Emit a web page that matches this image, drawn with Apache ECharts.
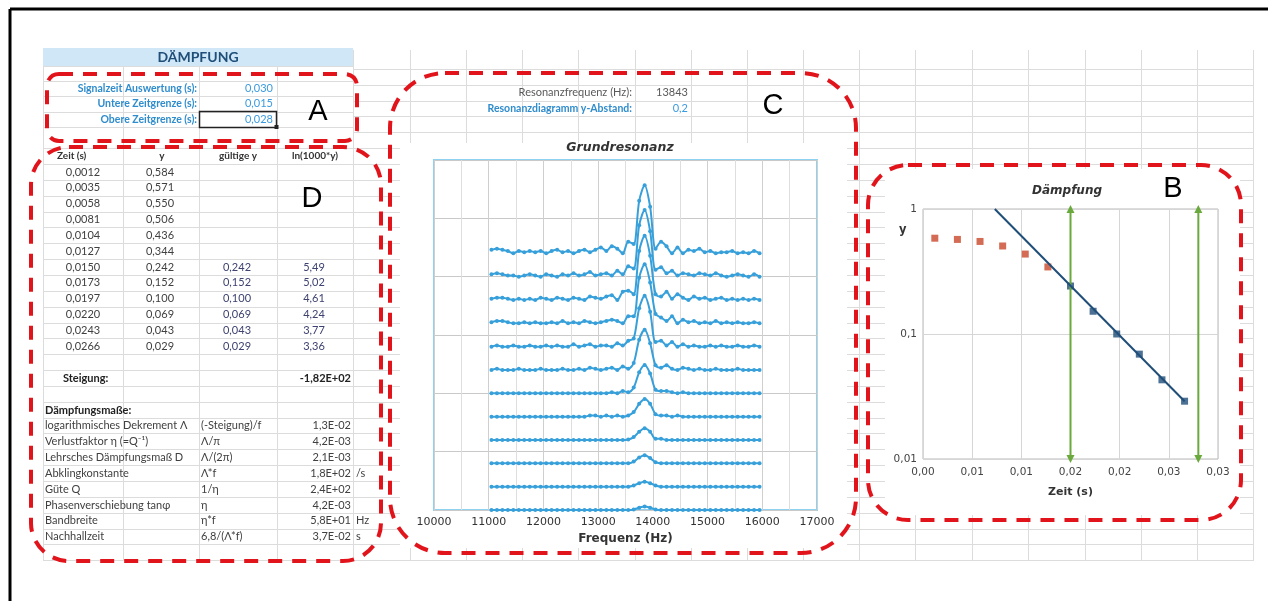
<!DOCTYPE html>
<html>
<head>
<meta charset="utf-8">
<title>Dämpfung</title>
<script src="https://cdn.jsdelivr.net/npm/echarts@6/dist/echarts.min.js"></script>
<style>
  html, body { margin: 0; padding: 0; background: #fff; }
  #chart { width: 1268px; height: 601px; }
</style>
</head>
<body>
<div id="chart"></div>
<script>
// ---- sheet values (block A) ----
const paramLabels = ['Signalzeit Auswertung (s):', 'Untere Zeitgrenze (s):', 'Obere Zeitgrenze (s):']
const paramValues = ['0,030', '0,015', '0,028']
const zeitGrenzen = [0.015, 0.028]

// ---- block C ----
const resLabels = ['Resonanzfrequenz (Hz):', 'Resonanzdiagramm y-Abstand:']
const resValues = ['13843', '0,2']
const yAbstand = 0.2

// ---- block D ----
const tableHeader = ['Zeit (s)', 'y', 'gültige y', 'ln(1000*y)']
const zeit = [0.0012, 0.0035, 0.0058, 0.0081, 0.0104, 0.0127, 0.0150, 0.0173, 0.0197, 0.0220, 0.0243, 0.0266]
const yWerte = [0.584, 0.571, 0.550, 0.506, 0.436, 0.344, 0.242, 0.152, 0.100, 0.069, 0.043, 0.029]
const gueltigeY = [null, null, null, null, null, null, 0.242, 0.152, 0.100, 0.069, 0.043, 0.029]
const lnWerte = [null, null, null, null, null, null, 5.49, 5.02, 4.61, 4.24, 3.77, 3.36]
const steigung = '-1,82E+02'
const massLabels = ['logarithmisches Dekrement Λ', 'Verlustfaktor η (=Q⁻¹)', 'Lehrsches Dämpfungsmaß D', 'Abklingkonstante',
  'Güte Q', 'Phasenverschiebung tanφ', 'Bandbreite', 'Nachhallzeit']
const massFormeln = ['(-Steigung)/f', 'Λ/π', 'Λ/(2π)', 'Λ*f', '1/η', 'η', 'η*f', '6,8/(Λ*f)']
const massWerte = ['1,3E-02', '4,2E-03', '2,1E-03', '1,8E+02', '2,4E+02', '4,2E-03', '5,8E+01', '3,7E-02']
const massEinheiten = ['', '', '', '/s', '', '', 'Hz', 's']

// ---- Grundresonanz: spectra, one per time step (amplitude above its own baseline) ----
const frequenz = [11050, 11150, 11250, 11350, 11450, 11550, 11650, 11750, 11850, 11950,
  12050, 12150, 12250, 12350, 12450, 12550, 12650, 12750, 12850, 12950,
  13050, 13150, 13250, 13350, 13450, 13550, 13650, 13750, 13850, 13950,
  14050, 14150, 14250, 14350, 14450, 14550, 14650, 14750, 14850, 14950,
  15050, 15150, 15250, 15350, 15450, 15550, 15650, 15750, 15850, 15950]
const spec0012 = [0.03, 0.04, 0.03, 0.02, 0.00, 0.02, 0.01, 0.02, 0.01, 0.02,
  0.00, 0.02, 0.03, 0.01, 0.02, 0.00, 0.02, 0.03, 0.01, 0.03,
  0.05, 0.02, 0.06, 0.04, 0.00, 0.10, 0.08, 0.45, 0.584, 0.40,
  0.04, 0.10, 0.06, 0.00, 0.05, 0.00, 0.03, 0.02, 0.04, 0.01,
  0.02, 0.00, 0.01, 0.01, 0.02, 0.00, 0.01, 0.00, 0.02, 0.00]
const spec0035 = [0.02, 0.03, 0.02, 0.01, 0.01, 0.00, 0.01, 0.02, 0.01, 0.00,
  0.02, 0.01, 0.00, 0.02, 0.01, 0.03, 0.01, 0.02, 0.04, 0.01,
  0.02, 0.03, 0.01, 0.05, 0.02, 0.09, 0.07, 0.44, 0.571, 0.39,
  0.06, 0.08, 0.03, 0.05, 0.01, 0.03, 0.02, 0.01, 0.03, 0.02,
  0.01, 0.03, 0.01, 0.00, 0.01, 0.02, 0.01, 0.00, 0.02, 0.00]
const spec0058 = [0.01, 0.02, 0.02, 0.01, 0.00, 0.01, 0.00, 0.01, 0.00, 0.02,
  0.01, 0.00, 0.02, 0.01, 0.00, 0.02, 0.01, 0.00, 0.03, 0.02,
  0.01, 0.03, 0.04, 0.00, 0.07, 0.08, 0.05, 0.42, 0.550, 0.38,
  0.05, 0.03, 0.07, 0.01, 0.05, 0.02, 0.00, 0.03, 0.01, 0.02,
  0.00, 0.01, 0.02, 0.00, 0.01, 0.00, 0.01, 0.00, 0.01, 0.00]
const spec0081 = [0.01, 0.02, 0.02, 0.01, 0.00, 0.00, 0.01, 0.00, 0.01, 0.00,
  0.00, 0.01, 0.00, 0.02, 0.00, 0.01, 0.00, 0.02, 0.01, 0.00,
  0.01, 0.02, 0.03, 0.02, 0.00, 0.06, 0.06, 0.39, 0.506, 0.35,
  0.08, 0.05, 0.02, 0.06, 0.00, 0.03, 0.01, 0.02, 0.00, 0.01,
  0.00, 0.02, 0.00, 0.01, 0.00, 0.01, 0.00, 0.00, 0.01, 0.00]
const spec0104 = [0.00, 0.01, 0.00, 0.00, 0.01, 0.00, 0.00, 0.01, 0.00, 0.00,
  0.01, 0.00, 0.01, 0.00, 0.00, 0.02, 0.00, 0.01, 0.02, 0.00,
  0.01, 0.01, 0.00, 0.03, 0.01, 0.05, 0.07, 0.33, 0.436, 0.30,
  0.04, 0.05, 0.01, 0.04, 0.00, 0.02, 0.00, 0.01, 0.00, 0.00,
  0.01, 0.00, 0.01, 0.00, 0.00, 0.01, 0.00, 0.00, 0.01, 0.00]
const spec0127 = [0.00, 0.01, 0.00, 0.00, 0.00, 0.01, 0.00, 0.00, 0.00, 0.01,
  0.00, 0.00, 0.00, 0.01, 0.00, 0.00, 0.01, 0.00, 0.02, 0.01,
  0.00, 0.01, 0.02, 0.00, 0.03, 0.01, 0.06, 0.26, 0.344, 0.23,
  0.04, 0.02, 0.04, 0.01, 0.00, 0.02, 0.01, 0.00, 0.01, 0.00,
  0.00, 0.01, 0.00, 0.00, 0.00, 0.01, 0.00, 0.00, 0.00, 0.00]
const spec0150 = [0.00, 0.00, 0.00, 0.00, 0.00, 0.00, 0.00, 0.00, 0.00, 0.00,
  0.00, 0.00, 0.00, 0.00, 0.00, 0.00, 0.00, 0.00, 0.00, 0.00,
  0.00, 0.00, 0.01, 0.00, 0.02, 0.01, 0.05, 0.18, 0.242, 0.17,
  0.03, 0.02, 0.02, 0.01, 0.00, 0.01, 0.00, 0.00, 0.00, 0.00,
  0.00, 0.00, 0.00, 0.00, 0.00, 0.00, 0.00, 0.00, 0.00, 0.00]
const spec0173 = [0.00, 0.00, 0.00, 0.00, 0.00, 0.00, 0.00, 0.00, 0.00, 0.00,
  0.00, 0.00, 0.00, 0.00, 0.00, 0.00, 0.00, 0.00, 0.01, 0.01,
  0.00, 0.01, 0.00, 0.01, 0.00, 0.01, 0.04, 0.11, 0.152, 0.11,
  0.02, 0.01, 0.01, 0.00, 0.01, 0.00, 0.00, 0.00, 0.00, 0.00,
  0.00, 0.00, 0.00, 0.00, 0.00, 0.00, 0.00, 0.00, 0.00, 0.00]
const spec0197 = [0, 0, 0, 0, 0, 0, 0, 0, 0, 0,
  0, 0, 0, 0, 0, 0, 0, 0, 0, 0,
  0, 0, 0, 0, 0, 0.005, 0.025, 0.07, 0.100, 0.07,
  0.01, 0.01, 0, 0, 0, 0, 0, 0, 0, 0,
  0, 0, 0, 0, 0, 0, 0, 0, 0, 0]
const spec0220 = [0, 0, 0, 0, 0, 0, 0, 0, 0, 0,
  0, 0, 0, 0, 0, 0, 0, 0, 0, 0,
  0, 0, 0, 0, 0, 0, 0.015, 0.05, 0.069, 0.045,
  0.01, 0, 0, 0, 0, 0, 0, 0, 0, 0,
  0, 0, 0, 0, 0, 0, 0, 0, 0, 0]
const spec0243 = [0, 0, 0, 0, 0, 0, 0, 0, 0, 0,
  0, 0, 0, 0, 0, 0, 0, 0, 0, 0,
  0, 0, 0, 0, 0, 0, 0.01, 0.03, 0.043, 0.03,
  0.01, 0, 0, 0, 0, 0, 0, 0, 0, 0,
  0, 0, 0, 0, 0, 0, 0, 0, 0, 0]
const spec0266 = [0, 0, 0, 0, 0, 0, 0, 0, 0, 0,
  0, 0, 0, 0, 0, 0, 0, 0, 0, 0,
  0, 0, 0, 0, 0, 0, 0.005, 0.02, 0.029, 0.02,
  0.005, 0, 0, 0, 0, 0, 0, 0, 0, 0,
  0, 0, 0, 0, 0, 0, 0, 0, 0, 0]
const spektren = [spec0012, spec0035, spec0058, spec0081, spec0104, spec0127,
  spec0150, spec0173, spec0197, spec0220, spec0243, spec0266]

// ---- Dämpfung chart: fitted line and axis labels ----
const fitZeit = [0.0073, 0.0266]
const fitY = [1, 0.029]
const dampXTicks = [0, 0.005, 0.01, 0.015, 0.02, 0.025, 0.03]
const dampXLabels = ['0,00', '0,01', '0,01', '0,02', '0,02', '0,03', '0,03']
const dampYTicks = [0.01, 0.1, 1]
const dampYLabels = ['0,01', '0,1', '1']

const chart = echarts.init(document.getElementById('chart'))

const SHEET_FONT = 'Lato, "Open Sans", sans-serif'
const CHART_FONT = '"DejaVu Sans", sans-serif'
const comma = (v, d) => v.toFixed(d).replace('.', ',')

// spreadsheet background
const els = []
const gridColor = '#dcdcdc'
const colX = [43, 123, 199, 277, 353, 410, 466, 522, 578, 635, 691, 747, 803, 859, 915, 972, 1028, 1085, 1141, 1197, 1253]
const rightRows = []
for (let y = 68.9; y < 562; y += 15.85) rightRows.push(y)
const leftRows = [66, 80.5, 96, 111.7, 127.3]
for (let y = 148.15; y < 562; y += 15.85) leftRows.push(y)
function hline(x1, x2, y, color, w, z) {
  els.push({ type: 'line', z: z, silent: true, shape: { x1: x1, y1: y, x2: x2, y2: y }, style: { stroke: color, lineWidth: w } })
}
function vline(x, y1, y2, color, w, z) {
  els.push({ type: 'line', z: z, silent: true, shape: { x1: x, y1: y1, x2: x, y2: y2 }, style: { stroke: color, lineWidth: w } })
}
colX.forEach((x, i) => vline(Math.round(x) + 0.5, i < 4 ? 66 : 50, 561, gridColor, 1, -10))
rightRows.forEach(y => hline(353, 1253, Math.round(y) + 0.5, gridColor, 1, -10))
leftRows.forEach(y => hline(43, 353, Math.round(y) + 0.5, gridColor, 1, -10))

// chart boxes hide the sheet grid
els.push({ type: 'rect', z: -5, silent: true, shape: { x: 400, y: 143, width: 447, height: 405 }, style: { fill: '#fff' } })
els.push({ type: 'rect', z: -5, silent: true, shape: { x: 885, y: 169, width: 355, height: 346 }, style: { fill: '#fff' } })

// title band
els.push({ type: 'rect', z: -4, silent: true, shape: { x: 43, y: 48, width: 310, height: 18 }, style: { fill: '#d0e7f7' } })

// screenshot frame
hline(10, 1268, 9, '#000', 3, 20)
vline(10, 9, 601, '#000', 3, 20)

function txt(x, y, text, o) {
  o = o || {}
  els.push({
    type: 'text', z: 30, silent: true, x: x, y: y,
    style: {
      text: text, align: o.align || 'left', verticalAlign: 'middle',
      font: (o.style || 'normal') + ' ' + (o.weight || 'normal') + ' ' + (o.size || 11) + 'px ' + (o.family || SHEET_FONT),
      fill: o.color || '#404040'
    }
  })
}

txt(198, 57, 'DÄMPFUNG', { align: 'center', weight: 'bold', size: 14, color: '#1f4e79' })
const rowA = [88.3, 103.9, 119.5]
paramLabels.forEach((s, i) => {
  txt(197, rowA[i], s, { align: 'right', weight: 'bold', color: '#2f8ccd', size: 10.5 })
  txt(273, rowA[i], paramValues[i], { align: 'right', color: '#3b9be0' })
})
// selected cell
els.push({ type: 'rect', z: 25, silent: true, shape: { x: 199.5, y: 111.5, width: 77, height: 16 }, style: { fill: 'none', stroke: '#222', lineWidth: 1.5 } })
els.push({ type: 'rect', z: 26, silent: true, shape: { x: 274.5, y: 125, width: 4, height: 4 }, style: { fill: '#222' } })

// table D
const rowH = 15.85
const headY = 156
txt(57, headY, tableHeader[0], { weight: 'bold', size: 10, color: '#333' })
txt(162, headY, tableHeader[1], { align: 'center', weight: 'bold', size: 10, color: '#333' })
txt(238, headY, tableHeader[2], { align: 'center', weight: 'bold', size: 10, color: '#333' })
txt(315, headY, tableHeader[3], { align: 'center', weight: 'bold', size: 10, color: '#333' })
zeit.forEach((t, i) => {
  const y = 172 + i * rowH
  txt(83, y, comma(t, 4), { align: 'center' })
  txt(160, y, comma(yWerte[i], 3), { align: 'center' })
  if (gueltigeY[i] !== null) txt(237, y, comma(gueltigeY[i], 3), { align: 'center', color: '#3e4270' })
  if (lnWerte[i] !== null) txt(314, y, comma(lnWerte[i], 2), { align: 'center', color: '#3e4270' })
})
txt(63, 378.5, 'Steigung:', { weight: 'bold', color: '#222' })
txt(351, 378.5, steigung, { align: 'right', weight: 'bold', color: '#222' })
txt(45, 410, 'Dämpfungsmaße:', { weight: 'bold', color: '#222' })
massLabels.forEach((s, i) => {
  const y = 425.8 + i * rowH
  txt(45, y, s)
  txt(201, y, massFormeln[i])
  txt(351, y, massWerte[i], { align: 'right' })
  if (massEinheiten[i]) txt(356, y, massEinheiten[i])
})

// block C texts
txt(632, 92.7, resLabels[0], { align: 'right', color: '#595959' })
txt(688, 92.7, resValues[0], { align: 'right', color: '#595959' })
txt(632, 108.5, resLabels[1], { align: 'right', weight: 'bold', color: '#2f8ccd', size: 10.5 })
txt(688, 108.5, resValues[1], { align: 'right', color: '#3b9be0' })

// dämpfung chart y title
txt(899, 230, 'y', { weight: 'bold', size: 11.5, family: CHART_FONT, color: '#333' })

// big markers
const letterFont = '"Liberation Sans", Arial, sans-serif'
txt(318, 112, 'A', { align: 'center', size: 29, family: letterFont, color: '#000' })
txt(312, 199, 'D', { align: 'center', size: 29, family: letterFont, color: '#000' })
txt(773, 106, 'C', { align: 'center', size: 29, family: letterFont, color: '#000' })
txt(1173, 189, 'B', { align: 'center', size: 29, family: letterFont, color: '#000' })

// red dashed outlines
function zone(x, y, w, h, r) {
  els.push({
    type: 'rect', z: 40, silent: true, shape: { x: x, y: y, width: w, height: h, r: r },
    style: { fill: 'none', stroke: '#e2141b', lineWidth: 4, lineDash: [14, 10] }
  })
}
zone(47, 74, 310, 67, 12)
zone(31, 147, 350, 414, 38)
zone(390, 73, 466, 480, 55)
zone(868, 165, 373, 355, 40)

// series
const specColor = '#37a0da'
const series = spektren.map((amp, i) => {
  const offset = (spektren.length - 1 - i) * yAbstand
  return {
    type: 'line', xAxisIndex: 0, yAxisIndex: 0, smooth: 0.3,
    data: frequenz.map((f, k) => [f, amp[k] + offset]),
    symbol: 'circle', symbolSize: 4,
    lineStyle: { color: specColor, width: 2 },
    itemStyle: { color: specColor }
  }
})

const redPts = [], bluePts = []
zeit.forEach((t, i) => {
  if (gueltigeY[i] === null) redPts.push([t, yWerte[i]])
  else bluePts.push([t, gueltigeY[i]])
})
const navy = '#1f4e79'
const green = '#6aa93b'
zeitGrenzen.forEach(t => {
  series.push({
    type: 'line', xAxisIndex: 1, yAxisIndex: 1,
    data: [{ value: [t, 0.01], symbolRotate: 180 }, { value: [t, 1] }],
    symbol: 'triangle', symbolSize: 8,
    lineStyle: { color: green, width: 2 }, itemStyle: { color: green }
  })
})
series.push({
  type: 'line', xAxisIndex: 1, yAxisIndex: 1, symbol: 'none',
  data: fitZeit.map((t, i) => [t, fitY[i]]),
  lineStyle: { color: navy, width: 2 }
})
series.push({
  type: 'scatter', xAxisIndex: 1, yAxisIndex: 1, symbol: 'rect', symbolSize: 7,
  data: redPts, itemStyle: { color: '#c9472b' }
})
series.push({
  type: 'scatter', xAxisIndex: 1, yAxisIndex: 1, symbol: 'rect', symbolSize: 7,
  data: bluePts, itemStyle: { color: navy }
})

function nearestLabel(ticks, labels, v) {
  let best = 0
  ticks.forEach((t, i) => { if (Math.abs(t - v) < Math.abs(ticks[best] - v)) best = i })
  return labels[best]
}

chart.setOption({
  backgroundColor: '#fff',
  animation: false,
  title: [
    {
      text: 'Grundresonanz', left: 620, top: 141, textAlign: 'center', padding: 0,
      textStyle: { fontFamily: CHART_FONT, fontStyle: 'italic', fontWeight: 'bold', fontSize: 12.5, color: '#333' }
    },
    {
      text: 'Dämpfung', left: 1067, top: 185, textAlign: 'center', padding: 0,
      textStyle: { fontFamily: CHART_FONT, fontStyle: 'italic', fontWeight: 'bold', fontSize: 12, color: '#333' }
    }
  ],
  grid: [
    { left: 434, top: 160, width: 383, height: 350, show: true, borderColor: '#8fd1f0', borderWidth: 2, backgroundColor: '#fff' },
    { left: 923, top: 209, width: 295, height: 250, show: true, borderColor: '#b8b8b8', borderWidth: 1, backgroundColor: '#fff' }
  ],
  xAxis: [
    {
      type: 'value', gridIndex: 0, min: 10000, max: 17000, interval: 1000,
      axisLine: { show: false }, axisTick: { show: false },
      axisLabel: {
        fontFamily: CHART_FONT, fontSize: 11, color: '#333', margin: 7, showMinLabel: true, showMaxLabel: true,
        formatter: v => String(v)
      },
      splitLine: { show: true, lineStyle: { color: '#cfcfcf' } },
      minorTick: { show: false, splitNumber: 2 },
      minorSplitLine: { show: true, lineStyle: { color: '#dedede' } },
      name: 'Frequenz (Hz)', nameLocation: 'middle', nameGap: 21,
      nameTextStyle: { fontFamily: CHART_FONT, fontWeight: 'bold', fontSize: 12, color: '#333' }
    },
    {
      type: 'value', gridIndex: 1, min: 0, max: 0.03, interval: 0.005,
      axisLine: { show: false }, axisTick: { show: false },
      axisLabel: {
        fontFamily: CHART_FONT, fontSize: 10.5, color: '#444', margin: 8, showMinLabel: true, showMaxLabel: true,
        formatter: v => nearestLabel(dampXTicks, dampXLabels, v)
      },
      splitLine: { show: true, lineStyle: { color: '#d6d6d6' } },
      name: 'Zeit (s)', nameLocation: 'middle', nameGap: 28,
      nameTextStyle: { fontFamily: CHART_FONT, fontWeight: 'bold', fontSize: 11, color: '#333' }
    }
  ],
  yAxis: [
    {
      type: 'value', gridIndex: 0, min: 0, max: 3, interval: 0.5,
      axisLine: { show: false }, axisTick: { show: false }, axisLabel: { show: false },
      splitLine: { show: true, lineStyle: { color: '#c9c9c9' } }
    },
    {
      type: 'log', gridIndex: 1, min: 0.01, max: 1, logBase: 10,
      axisLine: { show: false }, axisTick: { show: false },
      axisLabel: {
        fontFamily: CHART_FONT, fontSize: 10.5, color: '#444', margin: 6,
        formatter: v => nearestLabel(dampYTicks, dampYLabels, v)
      },
      splitLine: { show: true, lineStyle: { color: '#d6d6d6' } }
    }
  ],
  graphic: { elements: els },
  series: series
})
</script>
</body>
</html>
